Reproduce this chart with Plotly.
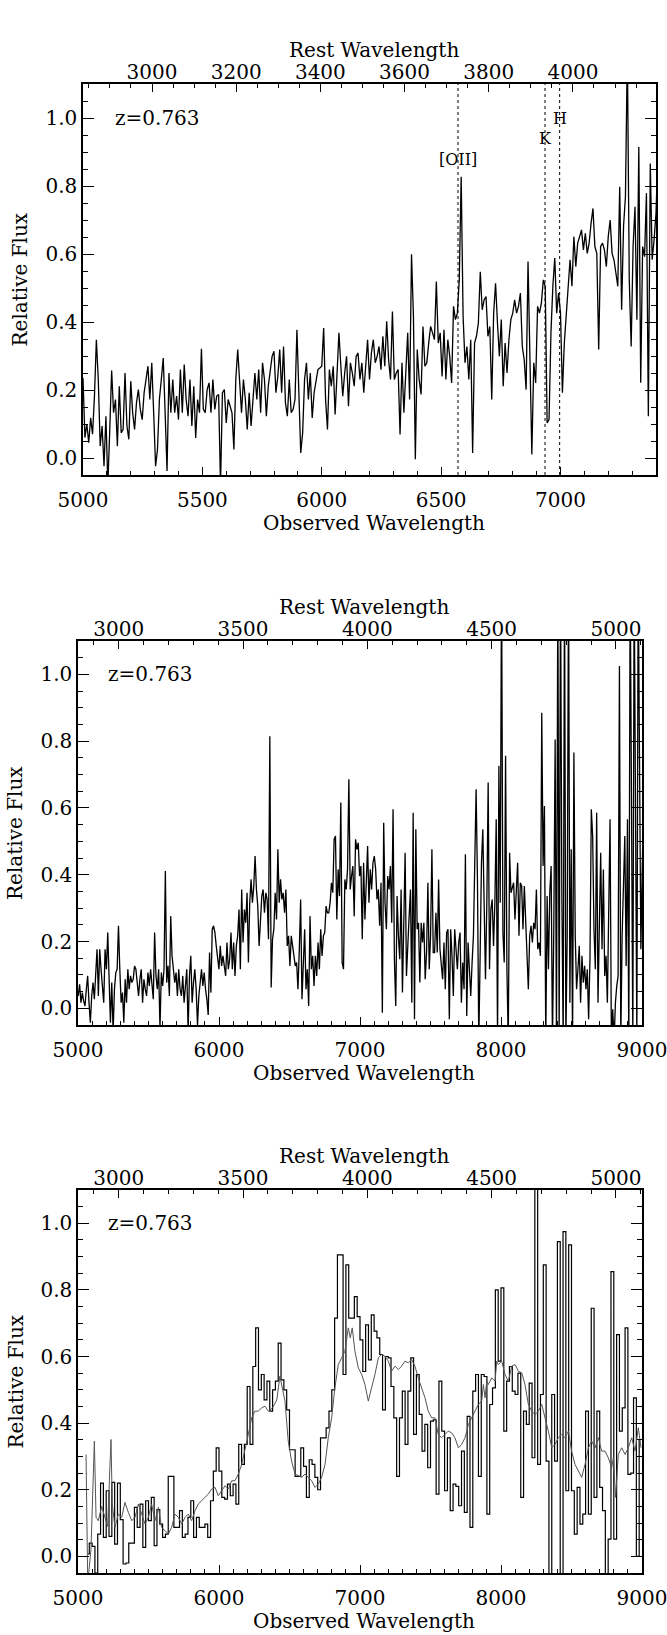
import plotly.graph_objects as go

Z = 0.763
W, H = 667, 1635
FONT = "DejaVu Serif"

# ---------------- Panel 1: spectrum (observed wavelength grid) ----------------
P1_START, P1_STEP = 5000, 8
p1_flux = [
    0.235, 0.06, 0.10, 0.045, 0.118, 0.07, 0.182, 0.348, 0.231, 0.035,
    0.094, -0.024, 0.123, -0.08, 0.08, 0.257, 0.133, 0.172, 0.035, 0.211,
    0.074, 0.084, 0.250, 0.094, 0.055, 0.226, 0.133, 0.084, 0.162, 0.201,
    0.143, 0.113, 0.192, 0.240, 0.270, 0.172, 0.280, 0.133, -0.024, 0.025,
    0.172, 0.231, 0.294, 0.133, -0.038, 0.250, 0.133, 0.231, 0.133, 0.182,
    0.113, 0.260, 0.133, 0.275, 0.172, 0.123, 0.231, 0.094, 0.211, 0.059,
    0.172, 0.133, 0.321, 0.143, 0.133, 0.201, 0.221, 0.133, 0.231, 0.143,
    0.182, 0.187, -0.08, 0.192, 0.201, 0.103, 0.172, 0.153, 0.133, 0.025,
    0.231, 0.319, 0.231, 0.133, 0.231, 0.172, 0.084, 0.192, 0.094, 0.172,
    0.250, 0.172, 0.260, 0.133, 0.280, 0.231, 0.123, 0.211, 0.250, 0.299,
    0.314, 0.192,
    0.240, 0.319, 0.192, 0.328, 0.162, 0.123, 0.231, 0.133, 0.143, 0.172,
    0.377, 0.182, 0.015, 0.074, 0.231, 0.280, 0.172, 0.250, 0.118, 0.192,
    0.231, 0.260, 0.265, 0.270, 0.382, 0.172, 0.084, 0.260, 0.211,
    0.270, 0.128, 0.250, 0.368, 0.270, 0.182, 0.250, 0.299, 0.152, 0.280,
    0.250, 0.211, 0.299, 0.309, 0.231, 0.280, 0.192, 0.270, 0.348, 0.231,
    0.309, 0.348, 0.280, 0.299, 0.328, 0.260, 0.358, 0.270, 0.402, 0.289,
    0.231, 0.431, 0.231, 0.250, 0.260, 0.069, 0.280, 0.133, 0.250, 0.368,
    0.172, 0.599, 0.417, -0.004, 0.319, 0.231, 0.187, 0.387,
    0.270, 0.280, 0.338, 0.387, 0.368, 0.348, 0.519, 0.338, 0.368, 0.240,
    0.377, 0.231, 0.348, 0.299, 0.221, 0.446, 0.407, 0.426,
    0.524, 0.827, 0.417, 0.280, 0.328, 0.231, 0.348, 0.015, 0.338, 0.358, 0.397,
    0.548, 0.436, 0.465, 0.475, 0.358, 0.387, 0.172, 0.426, 0.514, 0.397,
    0.299, 0.407, 0.211, 0.338, 0.250, 0.348, 0.407, 0.426, 0.465, 0.426,
    0.446, 0.485, 0.328, 0.289, 0.201, 0.578, 0.260, 0.010, 0.280, 0.221,
    0.446, 0.426, 0.456, 0.524, 0.505, 0.103, 0.113, 0.368, 0.505, 0.588,
    0.426, 0.485, 0.426, 0.192, 0.338, 0.426, 0.485, 0.583, 0.505, 0.651,
    0.563, 0.632, 0.651, 0.671, 0.612, 0.661, 0.602, 0.632, 0.690, 0.734,
    0.622, 0.602, 0.319, 0.622, 0.632, 0.612, 0.563, 0.651, 0.700, 0.602,
    0.583, 0.544, 0.505, 0.798, 0.436, 0.681, 0.769, 1.2, 0.524, 0.328,
    0.622, 0.739, 0.407, 0.915, 0.221, 0.622, 0.592, 0.779, 0.123, 0.866,
    0.583, 0.641, 0.720, 0.896, 0.641,
]

# ---------------- Panel 2: full-range spectrum ----------------
P2_START, P2_STEP = 5002, 9.5
p2_flux = [
    0.037, 0.072, 0.017, 0.047, 0.022, 0.007, 0.057, 0.097, 0.017, -0.043,
    0.037, 0.077, 0.027, 0.117, 0.177, 0.037, 0.177, 0.117, 0.057, 0.017,
    0.177, 0.117, 0.227, 0.087, -0.043, 0.077, -0.07, 0.057, 0.107, 0.117,
    0.247, 0.117, 0.017, 0.047, -0.043, 0.087, 0.017, 0.117, 0.057, 0.097,
    0.077, 0.087, 0.127, 0.117, 0.067, 0.037, 0.087, 0.117, 0.017, 0.087,
    0.057, 0.037, 0.107, 0.067, 0.117, 0.067, 0.027, 0.227, 0.097, 0.057,
    0.117, -0.06, 0.107, 0.067, 0.117, 0.411, 0.077, 0.127, 0.037, 0.276,
    0.157, 0.117, 0.077, 0.107, 0.037, 0.117, 0.057, 0.037, 0.097, 0.017,
    0.057, 0.117, -0.07, 0.097, 0.157, 0.017, 0.077, 0.117, 0.057, -0.05,
    0.037, 0.077, 0.117, 0.067, 0.107, 0.057, 0.027, -0.02, 0.167, 0.047,
    0.237, 0.247, 0.227, 0.187, 0.147, 0.117, 0.187, 0.127, 0.157, 0.117,
    0.097, 0.197, 0.117, 0.147, 0.227, 0.117, 0.197, 0.097, 0.187, 0.217,
    0.296, 0.117, 0.356, 0.197, 0.296, 0.256, 0.346, 0.137, 0.316, 0.386,
    0.316, 0.366, 0.456, 0.356, 0.306, 0.187, 0.256, 0.336, 0.356, 0.286,
    0.346, 0.326, 0.207, 0.815,
    0.062, 0.207, 0.237, 0.346, 0.266, 0.476, 0.316, 0.386, 0.326, 0.346,
    0.286, 0.356, 0.187, 0.217, 0.127, 0.217, 0.187, 0.157, 0.127, 0.137,
    0.057, 0.177, 0.326, 0.027, 0.117, 0.237, 0.057, 0.117, 0.007, 0.276,
    0.117, 0.157, 0.067, 0.157, 0.097, 0.197, 0.117, 0.237, 0.157, 0.217,
    0.227, 0.306, 0.286, 0.286, 0.316, 0.376, 0.346, 0.506, 0.516,
    0.266, 0.416, 0.336, 0.616, 0.137, 0.117, 0.386, 0.356, 0.416, 0.686,
    0.356, 0.396, 0.426, 0.276, 0.506, 0.476, 0.496, 0.396, 0.426, 0.207,
    0.436, 0.266, 0.396, 0.486, 0.316, 0.416, 0.356, 0.436, 0.456, 0.416,
    0.326, 0.356, 0.247, 0.376, -0.013, 0.556, 0.316, 0.237, 0.396, 0.356,
    0.426, 0.256, 0.596, 0.147, 0.007, 0.336, 0.217, 0.147, 0.356, 0.047,
    0.256, 0.466, 0.097, 0.217, 0.276, 0.356, 0.017, 0.586, -0.033, 0.536,
    0.237, 0.256, 0.077, 0.256, 0.197, 0.256, 0.087, 0.167, 0.376, 0.117,
    0.217, 0.476, 0.167, 0.167, 0.286, 0.167, 0.386, 0.177, 0.117,
    0.087, 0.197, 0.057, 0.227, 0.237, -0.033, 0.237, 0.157, 0.037,
    0.237, 0.187, 0.117, 0.197,
    0.227, 0.017, 0.137, 0.057, 0.461, -0.023, 0.197, 0.117, 0.037, 0.137,
    0.217, 0.436, 0.656, 0.386, -0.1, 0.157, 0.436, 0.536, 0.286, 0.087,
    0.316, 0.676, 0.117, 0.296, 0.326, 0.187, 0.316, 0.566, -0.1, 0.726,
    0.316, 1.3, 0.227, 0.137, 0.756, 0.117, -0.1, 0.466, 0.346, 0.366,
    0.376, 0.266, 0.366, 0.436, 0.217, 0.376, 0.366, 0.237, 0.366, 0.256,
    0.167, 0.057, 0.217, 0.247, 0.197, 0.256, 0.237, 0.356, 0.177, 0.197,
    0.157, 0.885, 0.426, 0.606, -0.1, 0.336, 0.117, 0.346, 0.426, -0.1,
    0.237, 0.805, -0.1, 1.3, -0.1, 1.3, 0.346, -0.1, 1.3, -0.1,
    0.217, 1.3, 0.017, 0.476, -0.1, 0.766, 0.217, 0.057, 0.117, 0.187,
    0.017, 0.157, 0.077, 0.127, 0.057, 0.117, -0.033, 0.147, 0.596, 0.516,
    0.237, 0.117, 0.586, 0.017, 0.247, 0.466, 0.177, 0.416, 0.097, 0.157,
    0.017, 0.346, 0.566, -0.1, -0.003, -0.1, 0.017, 0.067, 0.097, 1.025,
    -0.1, 0.217, 0.376, 0.516, 0.127, 0.566, -0.1, 1.3, 0.616, -0.1,
    1.3, 0.636, -0.1, 1.3, 0.576, 0.177, 0.416, 0.616, 0.316, 0.256,
]

# ---------------- Panel 3: binned spectrum + smoothed model ----------------
P3_START, P3_STEP = 5070, 20
p3_binned = [
    0.007, 0.04, 0.03, -0.05, 0.067, 0.22, 0.057, 0.197, 0.06, 0.222,
    0.037, 0.22, 0.11, -0.023, -0.02, 0.04, 0.04, 0.147, 0.087, 0.157,
    0.027, 0.167, 0.107, 0.177, 0.032, 0.14, 0.097, 0.057, 0.067, 0.24,
    0.24, 0.087, 0.087, 0.137, 0.057, 0.067, 0.117, 0.167, 0.057, 0.117,
    0.087, 0.087, 0.097, 0.057, 0.167, 0.256, 0.326, 0.256, 0.177, 0.172,
    0.217, 0.182, 0.217, 0.157, 0.336, 0.276, 0.336, 0.51, 0.336, 0.57,
    0.686, 0.5, 0.546, 0.47, 0.526,
    0.436, 0.50, 0.526, 0.64, 0.53, 0.50, 0.44, 0.32, 0.32, 0.24,
    0.24, 0.326, 0.27, 0.177, 0.29, 0.276, 0.237, 0.2, 0.356, 0.356,
    0.386, 0.436, 0.5, 0.715, 0.905, 0.905, 0.546, 0.875, 0.715, 0.715,
    0.78, 0.72, 0.65, 0.555, 0.695, 0.59, 0.725, 0.676, 0.656, 0.606,
    0.44, 0.6, 0.596, 0.51, 0.416, 0.24, 0.416, 0.496, 0.336, 0.496,
    0.596, 0.366, 0.546, 0.426, 0.316, 0.396, 0.266, 0.406, 0.41, 0.187,
    0.526, 0.376, 0.197, 0.356, 0.137, 0.217, 0.21,
    0.152, 0.316, 0.132, 0.42, 0.087, 0.496, 0.546, 0.24, 0.546, 0.54,
    0.127, 0.456, 0.506, 0.8, 0.586, 0.806, 0.376, 0.526, 0.57, 0.496,
    0.486, 0.55, 0.177, 0.436, 0.396, 0.52, 0.296, 1.3, 0.276, 0.486,
    0.875, 0.286, -0.1, 0.486, 0.286, 0.945, -0.1, 0.975, 0.197, 0.935,
    0.197, 0.067, 0.207, 0.097, 0.127, 0.436, 0.127, 0.745, 0.177, 0.436,
    0.207, 0.137, -0.1, 0.052, 0.855, 0.052, 0.666, 0.376, 0.446, 0.686,
    0.246, 0.25, 0.476, 0.0, 0.35,
]
p3_smooth_wave = [
    5057, 5069, 5092, 5116, 5128, 5144, 5168, 5190, 5210, 5234,
    5243, 5262, 5286, 5310, 5333, 5357, 5381, 5404, 5428, 5452,
    5475, 5499, 5522, 5546, 5570, 5593, 5617, 5641, 5664, 5688,
    5712, 5735, 5759, 5782, 5806, 5830, 5853, 5877, 5901, 5924,
    5948, 5972, 5995, 6019, 6043, 6066, 6090, 6113, 6137, 6161,
    6184, 6208, 6232, 6255, 6279, 6302, 6326, 6350, 6380, 6410,
    6432, 6450, 6468, 6491, 6515, 6539, 6562, 6586, 6610, 6633,
    6657, 6681, 6704, 6728, 6752, 6775, 6799, 6822, 6846, 6870,
    6893, 6917, 6931, 6945, 6964, 6988, 7012, 7035, 7059, 7082,
    7106, 7130, 7153, 7177, 7201, 7224, 7248, 7272, 7295, 7319,
    7343, 7366, 7390, 7413, 7437, 7461, 7484, 7508, 7532, 7555,
    7579, 7603, 7626, 7650, 7673, 7698, 7721, 7745, 7769, 7792,
    7816, 7839, 7863, 7875, 7887, 7899, 7910, 7934, 7958, 7970,
    7981, 8005, 8029, 8052, 8076, 8100, 8123, 8147, 8170, 8194,
    8218, 8241, 8265, 8289, 8312, 8336, 8360, 8383, 8407, 8430,
    8454, 8478, 8501, 8525, 8549, 8572, 8596, 8620, 8643, 8667,
    8691, 8714, 8738, 8761, 8785, 8797, 8813, 8832, 8856, 8880,
    8903, 8927, 8951, 8974, 8993,
]
p3_smooth_flux = [
    0.306, -0.08, 0.02, 0.346, 0.117, 0.107, 0.15, 0.12, 0.09, 0.351,
    0.157, 0.087, 0.127, 0.117, 0.162, 0.132, 0.107, 0.117, 0.157, 0.127,
    0.097, 0.117, 0.157, 0.107, 0.147, 0.087, 0.077, 0.067, 0.087, 0.127,
    0.117, 0.097, 0.117, 0.127, 0.107, 0.137, 0.157, 0.167, 0.177, 0.187,
    0.202, 0.207, 0.182, 0.197, 0.212, 0.202, 0.227, 0.227, 0.247, 0.276,
    0.316, 0.366, 0.416, 0.436, 0.436, 0.446, 0.451, 0.436, 0.446, 0.47,
    0.541, 0.50, 0.466, 0.346, 0.286, 0.247, 0.242, 0.237, 0.247, 0.237,
    0.227, 0.207, 0.217, 0.237, 0.276, 0.356, 0.416, 0.506, 0.576, 0.596,
    0.616, 0.686, 0.656, 0.686, 0.616, 0.566, 0.546, 0.516, 0.466, 0.506,
    0.546, 0.596, 0.606, 0.601, 0.586, 0.556, 0.571, 0.561, 0.571, 0.586,
    0.581, 0.591, 0.571, 0.536, 0.506, 0.476, 0.436, 0.416, 0.416, 0.366,
    0.356, 0.366, 0.376, 0.371, 0.356, 0.326, 0.336, 0.356, 0.396, 0.416,
    0.436, 0.456, 0.466, 0.516, 0.476, 0.526, 0.516, 0.536, 0.526, 0.586,
    0.576, 0.586, 0.546, 0.526, 0.571, 0.576, 0.556, 0.551, 0.516, 0.456,
    0.436, 0.426, 0.436, 0.456, 0.416, 0.376, 0.326, 0.336, 0.356, 0.366,
    0.356, 0.376, 0.316, 0.276, 0.256, 0.237, 0.276, 0.326, 0.346, 0.326,
    0.356, 0.316, 0.316, 0.296, 0.266, 0.296, 0.177, 0.306, 0.326, 0.306,
    0.326, 0.356, 0.316, 0.386, 0.326,
]

# ---------------- Spectral features (rest wavelengths) ----------------
feature_rest = [3727.0, 3933.7, 3968.5]
feature_labels = ["[OII]", "K", "H"]
feature_label_flux = [0.878, 0.94, 0.998]

REDSHIFT_LABEL = "z=0.763"
X_TITLE = "Observed Wavelength"
TOP_TITLE = "Rest Wavelength"
Y_TITLE = "Relative Flux"


def grid(start, step, n):
    return [start + step * i for i in range(n)]


p1_wave = grid(P1_START, P1_STEP, len(p1_flux))
p2_wave = grid(P2_START, P2_STEP, len(p2_flux))
p3_wave = grid(P3_START, P3_STEP, len(p3_binned))

panels = [
    dict(xa="x", xt="x2", ya="y", xr=(5000, 7400), px=(83, 656), py=(84, 475),
         xd=500, xm=100, rd=200, rm=50, ytx=20, zx=5125, feat=True),
    dict(xa="x3", xt="x4", ya="y2", xr=(5000, 9000), px=(78, 642), py=(641, 1025),
         xd=1000, xm=100, rd=500, rm=100, ytx=15, zx=5199, feat=False),
    dict(xa="x5", xt="x6", ya="y3", xr=(5000, 9000), px=(78, 642), py=(1190, 1573),
         xd=1000, xm=100, rd=500, rm=100, ytx=15, zx=5199, feat=False),
]

fig = go.Figure()
tf = dict(family=FONT, size=20, color="black")

fig.add_trace(go.Scatter(x=p1_wave, y=p1_flux, mode="lines", xaxis="x", yaxis="y",
                         line=dict(color="black", width=1.3), showlegend=False))
fig.add_trace(go.Scatter(x=p2_wave, y=p2_flux, mode="lines", xaxis="x3", yaxis="y2",
                         line=dict(color="black", width=1.3), showlegend=False))
fig.add_trace(go.Scatter(x=p3_wave, y=p3_binned, mode="lines", xaxis="x5", yaxis="y3",
                         line=dict(color="black", width=1.2, shape="hvh"), showlegend=False))
fig.add_trace(go.Scatter(x=p3_smooth_wave, y=p3_smooth_flux, mode="lines", xaxis="x5", yaxis="y3",
                         line=dict(color="#555555", width=1), showlegend=False))

layout = dict(template="none", width=W, height=H, margin=dict(l=0, r=0, t=0, b=0),
              paper_bgcolor="white", plot_bgcolor="white", showlegend=False,
              font=dict(family=FONT, color="black"))
annotations = []
shapes = []

for p in panels:
    xa, xt, ya = p["xa"], p["xt"], p["ya"]
    xkey = "xaxis" + xa[1:]
    tkey = "xaxis" + xt[1:]
    ykey = "yaxis" + ya[1:]
    dom_x = [p["px"][0] / W, p["px"][1] / W]
    dom_y = [1 - p["py"][1] / H, 1 - p["py"][0] / H]
    rest_range = [p["xr"][0] / (1 + Z), p["xr"][1] / (1 + Z)]

    # dummy trace to activate the rest-wavelength axis
    fig.add_trace(go.Scatter(x=rest_range, y=[None, None], xaxis=xt, yaxis=ya,
                             mode="lines", showlegend=False, hoverinfo="skip"))

    layout[xkey] = dict(domain=dom_x, range=list(p["xr"]), anchor=ya, side="bottom",
                        automargin=False, ticklabeloverflow="allow",
                        ticks="inside", ticklen=8, tickwidth=1, tickcolor="black",
                        dtick=p["xd"], tick0=0, tickformat="d", ticklabelstandoff=6,
                        minor=dict(ticks="inside", ticklen=4, dtick=p["xm"], tick0=0,
                                   tickcolor="black", tickwidth=1),
                        showline=True, linecolor="black", linewidth=1.5, mirror=True,
                        showgrid=False, zeroline=False, tickfont=tf)
    layout[tkey] = dict(overlaying=xa, anchor=ya, side="top", range=rest_range,
                        automargin=False, ticklabeloverflow="allow",
                        ticks="inside", ticklen=8, tickwidth=1, tickcolor="black",
                        dtick=p["rd"], tick0=0, tickformat="d",
                        minor=dict(ticks="inside", ticklen=4, dtick=p["rm"], tick0=0,
                                   tickcolor="black", tickwidth=1),
                        showline=False, showgrid=False, zeroline=False, tickfont=tf)
    layout[ykey] = dict(domain=dom_y, range=[-0.05, 1.1], anchor=xa,
                        automargin=False, ticklabeloverflow="allow",
                        ticks="inside", ticklen=11, tickwidth=1, tickcolor="black",
                        dtick=0.2, tick0=0, tickformat=".1f",
                        minor=dict(ticks="inside", ticklen=5, dtick=0.05, tick0=0,
                                   tickcolor="black", tickwidth=1),
                        showline=True, linecolor="black", linewidth=1.5, mirror="ticks",
                        showgrid=False, zeroline=False, tickfont=tf)

    cx = (p["px"][0] + p["px"][1]) / 2 + 4
    annotations.append(dict(text=TOP_TITLE, xref="paper", yref="paper", x=cx / W,
                            y=1 - (p["py"][0] - 34) / H, xanchor="center", yanchor="middle",
                            showarrow=False, font=tf))
    annotations.append(dict(text=X_TITLE, xref="paper", yref="paper", x=cx / W,
                            y=1 - (p["py"][1] + 48) / H, xanchor="center", yanchor="middle",
                            showarrow=False, font=tf))
    annotations.append(dict(text=Y_TITLE, xref="paper", yref="paper", x=p["ytx"] / W,
                            y=1 - (p["py"][0] + p["py"][1]) / 2 / H, xanchor="center",
                            yanchor="middle", textangle=-90, showarrow=False, font=tf))
    annotations.append(dict(text=REDSHIFT_LABEL, xref=xa, yref=ya, x=p["zx"], y=1.0,
                            xanchor="left", yanchor="middle", showarrow=False, font=tf))

    if p["feat"]:
        for rw, lab, fy in zip(feature_rest, feature_labels, feature_label_flux):
            ow = rw * (1 + Z)
            shapes.append(dict(type="line", xref=xa, yref=ya + " domain", x0=ow, x1=ow,
                               y0=0, y1=1, line=dict(color="black", width=1, dash="dot")))
            annotations.append(dict(text=lab, xref=xa, yref=ya, x=ow, y=fy,
                                    xanchor="center", yanchor="middle", showarrow=False,
                                    font=dict(family=FONT, size=16, color="black")))

layout["annotations"] = annotations
layout["shapes"] = shapes
fig.update_layout(**layout)
fig.write_html("out.html")
